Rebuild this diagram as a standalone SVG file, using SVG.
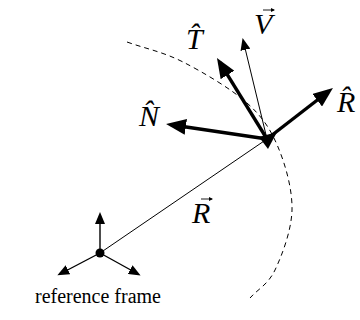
<svg xmlns="http://www.w3.org/2000/svg" width="360" height="320" viewBox="0 0 360 320">
<style>
.lbl{font-style:italic;font-size:30px;fill:#000}
.cap{font-size:20px;fill:#000}
.thick{stroke:#000;stroke-width:3.4;fill:none}
.thin{stroke:#000;stroke-width:1;fill:none}
.frame{stroke:#000;stroke-width:1.4;fill:none}
.vec{stroke:#000;stroke-width:0.9;fill:none}
</style>
<defs>
<marker id="big" markerUnits="userSpaceOnUse" markerWidth="22" markerHeight="16" refX="15" refY="8" orient="auto"><path d="M0,0 L20,8 L0,16 z" fill="#000"/></marker>
<marker id="mid" markerUnits="userSpaceOnUse" markerWidth="13" markerHeight="10" refX="9" refY="5" orient="auto"><path d="M0,0 L12,5 L0,10 z" fill="#000"/></marker>
<marker id="small" markerUnits="userSpaceOnUse" markerWidth="13" markerHeight="10" refX="8" refY="5" orient="auto"><path d="M0,0 L12,5 L0,10 z" fill="#000"/></marker>
<marker id="tiny" markerUnits="userSpaceOnUse" markerWidth="5" markerHeight="4" refX="3" refY="2" orient="auto"><path d="M0,0 L4,2 L0,4 z" fill="#000"/></marker>
</defs>
<path id="orbit" d="M127,42 C145.7,48.7 163,51.8 183,62 C203,72.2 231.2,88.8 247,103 C262.8,117.2 270.5,129.2 278,147 C285.5,164.8 292.5,189.5 292,210 C291.5,230.5 282,255.3 275,270 C268,284.7 258.3,288.7 250,298" fill="none" stroke="#000" stroke-width="1" stroke-dasharray="5,4"/>
<g id="connectors">
<line class="thin" x1="100" y1="253" x2="267" y2="139"/>
<line class="thin" x1="267" y1="139" x2="243.3" y2="41" marker-end="url(#mid)"/>
<line class="thick" x1="267" y1="139" x2="329" y2="91" marker-end="url(#big)"/>
<line class="thick" x1="267" y1="139" x2="171" y2="124.7" marker-end="url(#big)"/>
<line class="thick" x1="267" y1="139" x2="219.6" y2="62.2" marker-end="url(#big)"/>
<line class="frame" x1="100" y1="253" x2="100" y2="216" marker-end="url(#small)"/>
<line class="frame" x1="100" y1="253" x2="60.9" y2="273.5" marker-end="url(#small)"/>
<line class="frame" x1="100" y1="253" x2="137.1" y2="273.5" marker-end="url(#small)"/>
</g>
<g id="point"><polygon points="259,137 277,132 268,149" fill="#000"/></g>
<g id="origin"><circle cx="100" cy="253" r="4.5" fill="#000"/></g>
<g id="label-T"><text class="lbl" font-family="Liberation Serif, DejaVu Serif, serif" x="186" y="49">T̂</text></g>
<g id="label-V"><text class="lbl" font-family="Liberation Serif, DejaVu Serif, serif" x="254" y="34">V</text><line class="vec" x1="263" y1="10" x2="274" y2="10" marker-end="url(#tiny)"/></g>
<g id="label-N"><text class="lbl" font-family="Liberation Serif, DejaVu Serif, serif" x="139" y="126">N̂</text></g>
<g id="label-Rhat"><text class="lbl" font-family="Liberation Serif, DejaVu Serif, serif" x="337" y="112">R̂</text></g>
<g id="label-R"><text class="lbl" font-family="Liberation Serif, DejaVu Serif, serif" x="192" y="223">R</text><line class="vec" x1="201" y1="199" x2="212" y2="199" marker-end="url(#tiny)"/></g>
<g id="label-frame"><text class="cap" font-family="Liberation Serif, DejaVu Serif, serif" x="35" y="303">reference frame</text></g>
</svg>
